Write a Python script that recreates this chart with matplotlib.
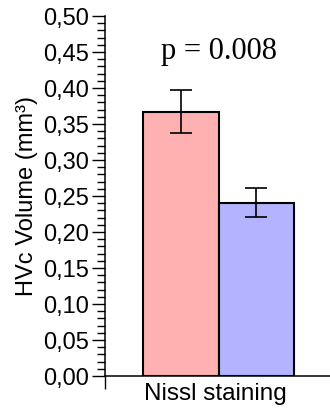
import matplotlib
matplotlib.use("Agg")
import matplotlib.pyplot as plt
from matplotlib.ticker import MultipleLocator, FuncFormatter

# Data
group_label = "Nissl staining"
series_names = ["Group A", "Group B"]
means = [0.367, 0.241]
errors = [0.030, 0.020]
bar_colors = ["#FFB0B0", "#B3B3FF"]
p_text = "p = 0.008"
y_label = "HVc Volume (mm³)"

plt.rcParams['font.family'] = ['Liberation Sans', 'DejaVu Sans']

fig = plt.figure(figsize=(3.30, 4.19), dpi=100)
ax = fig.add_axes([0.318, 0.1026, 0.682, 0.859])

center = 1.516
width = 1.005
xs = [center - width / 2, center + width / 2]
for x, m, e, c in zip(xs, means, errors, bar_colors):
    ax.bar(x, m, width=width, color=c, edgecolor="black", linewidth=1.5, zorder=2)
    ax.errorbar(x, m, yerr=e, fmt="none", ecolor="black", elinewidth=1.2,
                capsize=8, capthick=1.2, zorder=3)

ax.set_xlim(0, 3.0)
ax.set_ylim(0, 0.5)
ax.yaxis.set_major_locator(MultipleLocator(0.05))
ax.yaxis.set_minor_locator(MultipleLocator(0.01))
ax.yaxis.set_major_formatter(FuncFormatter(lambda v, p: f"{v:.2f}".replace(".", ",")))
ax.tick_params(axis="y", which="major", length=9.5, width=1.0, labelsize=17, pad=2)
ax.tick_params(axis="y", which="minor", length=6, width=1.0)

ax.set_xticks([0])
ax.set_xticklabels([""])
ax.tick_params(axis="x", which="major", length=9, width=1.0)
ax.set_xticks([center - 0.05], minor=True)
ax.set_xticklabels([group_label], minor=True)
ax.tick_params(axis="x", which="minor", length=0, labelsize=17.5, pad=5)

for s in ["top", "right"]:
    ax.spines[s].set_visible(False)
for s in ["left", "bottom"]:
    ax.spines[s].set_linewidth(1.1)

ax.set_ylabel(y_label, fontsize=17, labelpad=4)
ax.text(center - 0.0, 0.441, p_text, ha="center", va="baseline",
        fontsize=22, family=["Liberation Serif", "DejaVu Serif"])

fig.savefig("out.png", dpi=100)
